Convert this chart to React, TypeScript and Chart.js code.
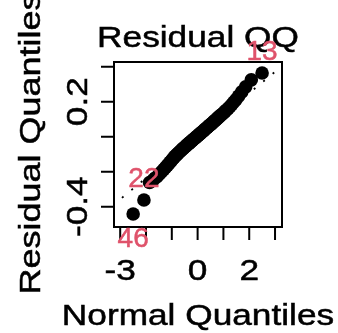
import { useEffect, useRef } from 'react';
import { Chart, registerables } from 'chart.js';

Chart.register(...registerables);

// Theoretical normal quantiles (80 observations)
const NORMAL_QUANTILES = [
  -2.498, -2.080, -1.863, -1.709, -1.587, -1.485, -1.396, -1.318, -1.247, -1.181,
  -1.121, -1.064, -1.010, -0.959, -0.911, -0.864, -0.820, -0.777, -0.735, -0.694,
  -0.655, -0.617, -0.579, -0.543, -0.507, -0.472, -0.437, -0.403, -0.370, -0.337,
  -0.304, -0.272, -0.240, -0.208, -0.173, -0.142, -0.110, -0.078, -0.047, -0.016,
  0.016, 0.047, 0.078, 0.110, 0.142, 0.173, 0.205, 0.237, 0.270, 0.302,
  0.335, 0.369, 0.402, 0.437, 0.471, 0.507, 0.543, 0.579, 0.617, 0.655,
  0.694, 0.735, 0.777, 0.820, 0.864, 0.911, 0.959, 1.010, 1.064, 1.121,
  1.182, 1.247, 1.318, 1.397, 1.486, 1.587, 1.709, 1.863, 2.080, 2.498,
];

// Sorted residuals
const RESIDUALS = [
  -0.442, -0.362, -0.262, -0.245, -0.230, -0.214, -0.200, -0.188, -0.176, -0.165,
  -0.155, -0.145, -0.136, -0.126, -0.118, -0.111, -0.104, -0.098, -0.092, -0.086,
  -0.080, -0.075, -0.070, -0.065, -0.060, -0.056, -0.051, -0.047, -0.042, -0.038,
  -0.034, -0.030, -0.026, -0.021, -0.017, -0.013, -0.009, -0.005, -0.001, 0.003,
  0.007, 0.011, 0.015, 0.019, 0.023, 0.027, 0.031, 0.035, 0.040, 0.044,
  0.048, 0.053, 0.057, 0.061, 0.066, 0.070, 0.075, 0.080, 0.085, 0.090,
  0.095, 0.100, 0.106, 0.112, 0.118, 0.124, 0.130, 0.137, 0.145, 0.153,
  0.161, 0.171, 0.183, 0.197, 0.212, 0.232, 0.256, 0.285, 0.325, 0.364,
];

// Identified observations: index into the sorted data, label text, placement
const ID_POINTS = [
  { index: 0, label: '46', place: 'below' },
  { index: 1, label: '22', place: 'above' },
  { index: 79, label: '13', place: 'above' },
];

// Reference line through the quartiles
const QQ_LINE_INTERCEPT = 0.0066;
const QQ_LINE_SLOPE = 0.1214;

const X_RANGE = [-3.24, 3.27];
const Y_RANGE = [-0.516, 0.427];

const X_TICKS = [-3, -2, -1, 0, 1, 2, 3];
const X_TICK_LABELS = [
  { value: -3, text: '-3' },
  { value: 0, text: '0' },
  { value: 2, text: '2' },
];
const Y_TICKS = [-0.4, -0.2, 0, 0.2, 0.4];
const Y_TICK_LABELS = [
  { value: -0.4, text: '-0.4' },
  { value: 0.2, text: '0.2' },
];

const TITLE = 'Residual QQ';
const X_TITLE = 'Normal Quantiles';
const Y_TITLE = 'Residual Quantiles';

const FONT = '"Liberation Sans", Arial, Helvetica, sans-serif';
const TEXT_SIZE = 30;
const TEXT_STRETCH = 1.175;
const ID_SIZE = 28;
const ID_COLOR = '#DF536B';
const TICK_LEN = 13;

function drawText(
  ctx: CanvasRenderingContext2D,
  text: string,
  x: number,
  y: number,
  opts: {
    rot?: number;
    size?: number;
    stretch?: number;
    color?: string;
    align?: CanvasTextAlign;
    baseline?: CanvasTextBaseline;
  } = {}
) {
  const {
    rot = 0,
    size = TEXT_SIZE,
    stretch = TEXT_STRETCH,
    color = '#000',
    align = 'center',
    baseline = 'alphabetic',
  } = opts;
  ctx.save();
  ctx.translate(x, y);
  ctx.rotate(rot);
  ctx.scale(stretch, 1);
  ctx.font = `${size}px ${FONT}`;
  ctx.fillStyle = color;
  ctx.strokeStyle = color;
  ctx.lineWidth = 0.5;
  ctx.textAlign = align;
  ctx.textBaseline = baseline;
  ctx.fillText(text, 0, 0);
  ctx.strokeText(text, 0, 0);
  ctx.restore();
}

const framePlugin = {
  id: 'qqFrame',
  afterDraw(chart: any) {
    const { ctx, chartArea: a, scales } = chart;
    const xs = scales.x;
    const ys = scales.y;
    ctx.save();

    // Title and axis titles
    const cx = (a.left + a.right) / 2;
    const cy = (a.top + a.bottom) / 2;
    drawText(ctx, TITLE, cx, 46.5);
    drawText(ctx, X_TITLE, cx, 325);
    drawText(ctx, Y_TITLE, 40, cy - 1, { rot: -Math.PI / 2, stretch: 1.2 });

    // Plot box
    ctx.strokeStyle = '#000';
    ctx.lineWidth = 2;
    ctx.strokeRect(a.left, a.top, a.right - a.left, a.bottom - a.top);

    // Tick marks
    ctx.beginPath();
    X_TICKS.forEach((v) => {
      const px = xs.getPixelForValue(v);
      ctx.moveTo(px, a.bottom);
      ctx.lineTo(px, a.bottom + TICK_LEN);
    });
    Y_TICKS.forEach((v) => {
      const py = ys.getPixelForValue(v);
      ctx.moveTo(a.left, py);
      ctx.lineTo(a.left - TICK_LEN, py);
    });
    ctx.stroke();

    // Tick labels
    X_TICK_LABELS.forEach((t) => drawText(ctx, t.text, xs.getPixelForValue(t.value), 280));
    Y_TICK_LABELS.forEach((t) =>
      drawText(ctx, t.text, 87, ys.getPixelForValue(t.value), { rot: -Math.PI / 2 })
    );

    // Labels for identified points
    const meta = chart.getDatasetMeta(0);
    ID_POINTS.forEach((p) => {
      const el = meta.data[p.index];
      if (!el) return;
      const by = p.place === 'above' ? el.y - 13 : el.y + 33;
      drawText(ctx, p.label, el.x, by, { size: ID_SIZE, stretch: 1, color: ID_COLOR });
    });

    ctx.restore();
  },
};

export default function App() {
  const canvasRef = useRef<HTMLCanvasElement | null>(null);

  useEffect(() => {
    const canvas = canvasRef.current;
    if (!canvas) return;

    const points = NORMAL_QUANTILES.map((q, i) => ({ x: q, y: RESIDUALS[i] }));
    const lineEnds = X_RANGE.map((q) => ({ x: q, y: QQ_LINE_INTERCEPT + QQ_LINE_SLOPE * q }));

    const chart = new Chart(canvas, {
      type: 'scatter',
      data: {
        datasets: [
          {
            data: points,
            backgroundColor: '#000',
            borderWidth: 0,
            pointRadius: 6.8,
            pointHoverRadius: 6.8,
          },
          {
            data: lineEnds,
            showLine: true,
            borderColor: '#000',
            borderWidth: 1.8,
            borderDash: [2, 10.2],
            borderDashOffset: 1.9,
            pointRadius: 0,
            pointHoverRadius: 0,
          },
        ],
      },
      options: {
        animation: false,
        responsive: false,
        devicePixelRatio: 1,
        events: [],
        layout: { padding: { left: 114, right: 56, top: 62, bottom: 106 } },
        scales: {
          x: { type: 'linear', min: X_RANGE[0], max: X_RANGE[1], display: false },
          y: { type: 'linear', min: Y_RANGE[0], max: Y_RANGE[1], display: false },
        },
        plugins: {
          legend: { display: false },
          tooltip: { enabled: false },
        },
      },
      plugins: [framePlugin],
    });

    return () => chart.destroy();
  }, []);

  return (
    <div style={{ position: 'fixed', left: 0, top: 0, width: 338, height: 333, background: '#fff' }}>
      <canvas ref={canvasRef} width={338} height={333} style={{ display: 'block' }} />
    </div>
  );
}
